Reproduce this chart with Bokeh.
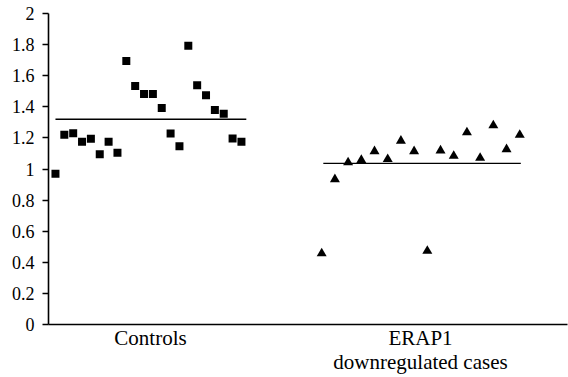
from bokeh.plotting import figure
from bokeh.models import Range1d, FixedTicker
from bokeh.embed import file_html
from bokeh.resources import INLINE

# ---- data ----
categories = ["Controls", "ERAP1\ndownregulated cases"]
controls = [0.97, 1.22, 1.23, 1.175, 1.195, 1.095, 1.175, 1.105, 1.695, 1.533,
            1.483, 1.483, 1.393, 1.228, 1.147, 1.792, 1.539, 1.475, 1.38, 1.355,
            1.196, 1.175]
cases = [0.457, 0.934, 1.042, 1.057, 1.114, 1.063, 1.181, 1.114, 0.473, 1.119,
         1.084, 1.235, 1.071, 1.28, 1.127, 1.219]
y_ticks = [0, 0.2, 0.4, 0.6, 0.8, 1, 1.2, 1.4, 1.6, 1.8, 2]
y_tick_labels = ["0", "0.2", "0.4", "0.6", "0.8", "1", "1.2", "1.4", "1.6", "1.8", "2"]

# ---- layout constants ----
ctrl_start, ctrl_step = 0.648, 0.0328
case_start, case_step = 1.634, 0.0489
font = "'Liberation Serif', 'Times New Roman', serif"

p = figure(width=568, height=377, output_backend="svg", toolbar_location=None,
           x_range=Range1d(0.6222, 2.5444), y_range=Range1d(0, 2),
           min_border_left=48, min_border_right=1, min_border_top=13,
           min_border_bottom=53)
p.outline_line_color = None
p.xgrid.visible = False
p.ygrid.visible = False
p.background_fill_color = "white"
p.border_fill_color = "white"

xc = [ctrl_start + i * ctrl_step for i in range(len(controls))]
xe = [case_start + i * case_step for i in range(len(cases))]

mc = sum(controls) / len(controls)
me = sum(cases) / len(cases)
p.segment(x0=[xc[0], xe[0] + 0.006], y0=[mc, me], x1=[xc[-1] + 0.018, xe[-1] + 0.004],
          y1=[mc, me], line_color="black", line_width=1.3)

p.scatter(xc, controls, marker="square", size=8, fill_color="black", line_color="black", line_width=0)
p.scatter(xe, cases, marker="triangle", size=10, fill_color="black", line_color="black", line_width=0)

# axes
p.xaxis.ticker = FixedTicker(ticks=[1, 2])
p.xaxis.major_label_overrides = {1: categories[0], 2: categories[1]}
p.xaxis.major_tick_out = 0
p.xaxis.major_tick_in = 0
p.xaxis.minor_tick_out = 0
p.xaxis.minor_tick_in = 0
p.xaxis.major_label_standoff = 1
p.xaxis.major_label_text_font = font
p.xaxis.major_label_text_font_size = "21px"
p.xaxis.major_label_text_line_height = 1.0
p.xaxis.major_label_text_color = "black"
p.xaxis.axis_line_color = "black"
p.xaxis.axis_line_width = 1.6

p.yaxis.ticker = FixedTicker(ticks=y_ticks)
p.yaxis.major_label_overrides = {t: l for t, l in zip(y_ticks, y_tick_labels)}
p.yaxis.major_tick_out = 6
p.yaxis.major_tick_in = 0
p.yaxis.minor_tick_out = 0
p.yaxis.minor_tick_in = 0
p.yaxis.major_tick_line_color = "black"
p.yaxis.major_tick_line_width = 1.3
p.yaxis.major_label_standoff = 8
p.yaxis.major_label_text_font = font
p.yaxis.major_label_text_font_size = "18px"
p.yaxis.major_label_text_color = "black"
p.yaxis.axis_line_color = "black"
p.yaxis.axis_line_width = 1.6

open("out.html", "w").write(file_html(p, INLINE))
